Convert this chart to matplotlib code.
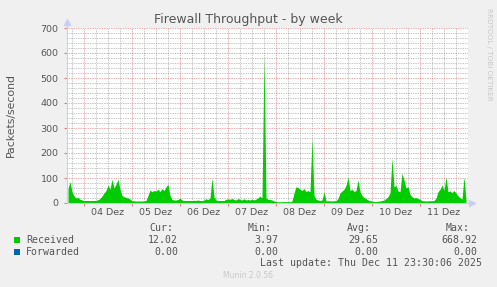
import matplotlib.pyplot as plt
import numpy as np

W, H = 497, 287

# hourly packets/second, hour 0 = 04 Dez 00:00
dec03 = [58, 85, 45, 28, 20, 22, 15, 12]  # 16:00 .. 23:00
dec04 = [10, 10, 10, 10, 10, 10, 11, 13, 18, 28, 40, 50,
         72, 55, 95, 60, 75, 95, 55, 30, 25, 22, 20, 16]
dec05 = [9, 9, 8, 8, 8, 8, 9, 10, 30, 52, 45, 50,
         48, 55, 45, 58, 50, 65, 75, 30, 14, 12, 12, 14]
dec06 = [20, 12, 10, 10, 10, 10, 10, 11, 10, 12, 10, 10,
         12, 17, 14, 20, 100, 25, 12, 10, 10, 10, 10, 15]
dec07 = [16, 15, 18, 14, 12, 18, 14, 12, 17, 12, 14, 12,
         15, 12, 16, 20, 28, 20, 590, 20, 15, 14, 12, 8]
dec08 = [6, 5, 5, 5, 6, 5, 6, 5, 8, 40, 65, 62,
         55, 50, 58, 45, 50, 45, 260, 30, 15, 12, 10, 12]
dec09 = [45, 8, 9, 9, 8, 9, 10, 18, 40, 48, 55, 70,
         104, 50, 55, 45, 50, 92, 45, 30, 22, 18, 12, 9]
dec10 = [8, 6, 6, 7, 8, 10, 12, 18, 25, 40, 180, 65,
         70, 48, 45, 120, 92, 60, 65, 35, 25, 20, 22, 18]
dec11 = [15, 9, 9, 8, 9, 9, 9, 10, 20, 45, 55, 72,
         50, 104, 45, 48, 42, 50, 40, 28, 22, 15, 105, 12]

received = np.array(dec03 + dec04 + dec05 + dec06 + dec07 + dec08 + dec09 + dec10 + dec11, float)
hours = np.arange(-8, -8 + len(received))
forwarded = np.zeros(len(received))

day_labels = ["04 Dez", "05 Dez", "06 Dez", "07 Dez", "08 Dez", "09 Dez", "10 Dez", "11 Dez"]

stat_heads = ["Cur:", "Min:", "Avg:", "Max:"]
received_stats = ["12.02", "3.97", "29.65", "668.92"]
forwarded_stats = ["0.00", "0.00", "0.00", "0.00"]

GREEN = "#00CC00"
BLUE = "#0066B3"
TXT = "#555555"
AXIS = "#C8CFF5"


def px(x, y):
    return x / W, 1 - y / H


fig = plt.figure(figsize=(W / 100, H / 100), dpi=100, facecolor="#F0F0F0")
ax = fig.add_axes([67 / W, 1 - 203 / H, (468 - 67) / W, 175 / H])
ax.set_facecolor("white")

ax.fill_between(hours, 0, received, color=GREEN, lw=0, zorder=3)
ax.fill_between(hours, received, received + forwarded, color=BLUE, lw=0, zorder=3)

ax.set_xlim(-8.5, 192)
ax.set_ylim(0, 700)

for s in ax.spines.values():
    s.set_visible(False)

midnights = np.arange(0, 192, 24)
ax.set_xticks(midnights)
ax.set_xticks(np.arange(-6, 192, 6), minor=True)
ax.set_yticks(np.arange(0, 701, 100))
ax.set_yticks(np.arange(0, 701, 20), minor=True)
ax.set_xticklabels([])
ax.tick_params(axis="y", which="major", labelsize=6.8, labelcolor=TXT, length=2,
               color="#E08080", pad=4)
ax.tick_params(axis="x", which="major", length=2, color="#E08080")
ax.tick_params(which="minor", length=1, color=AXIS)

ax.grid(which="major", color=(0.85, 0.35, 0.35, 0.45), lw=0.5, ls=(0, (1, 1.5)), zorder=1)
ax.grid(which="minor", color=(0.55, 0.55, 0.55, 0.32), lw=0.5, ls=(0, (1, 1.5)), zorder=1)
ax.set_axisbelow(True)

for i, lab in enumerate(day_labels):
    ax.text(12 + 24 * i, -38, lab, ha="center", va="center", fontsize=6.8, color=TXT)

# axis lines with arrows
ax.plot([0, 0], [0, 1.02], transform=ax.transAxes, color=AXIS, lw=0.8, clip_on=False, zorder=4)
ax.plot([0, 1.005], [0, 0], transform=ax.transAxes, color=AXIS, lw=0.8, clip_on=False, zorder=4)
ax.plot([0], [1.035], transform=ax.transAxes, marker="^", ms=4.5, color=AXIS, clip_on=False)
ax.plot([1.01], [0], transform=ax.transAxes, marker=">", ms=4.5, color=AXIS, clip_on=False)

fig.text(*px(248.5, 19), "Firewall Throughput - by week", ha="center", va="center",
         fontsize=9, color=TXT)
fig.text(*px(11, 115), "Packets/second", ha="center", va="center", rotation=90,
         fontsize=7.8, color=TXT)
fig.text(*px(489, 54), "RRDTOOL / TOBI OETIKER", ha="center", va="center", rotation=270,
         fontsize=5.2, color="#C8C8C8")

mono = "DejaVu Sans Mono"
ms = 7.1
head_x = [173, 272, 371, 470]
val_x = [178, 278, 378, 477]
for hx, h in zip(head_x, stat_heads):
    fig.text(*px(hx, 228), h, ha="right", va="center", family=mono, fontsize=ms, color=TXT)

rows = [("Received", GREEN, received_stats, 240), ("Forwarded", BLUE, forwarded_stats, 252)]
for name, col, stats, y in rows:
    fig.patches.append(plt.Rectangle(px(14, y + 3), 6 / W, 6 / H, transform=fig.transFigure,
                                     color=col, lw=0))
    fig.text(*px(26, y), name, ha="left", va="center", family=mono, fontsize=ms, color=TXT)
    for vx, v in zip(val_x, stats):
        fig.text(*px(vx, y), v, ha="right", va="center", family=mono, fontsize=ms, color=TXT)

fig.text(*px(482, 263), "Last update: Thu Dec 11 23:30:06 2025", ha="right", va="center",
         family=mono, fontsize=ms, color=TXT)
fig.text(*px(248, 276), "Munin 2.0.56", ha="center", va="center", fontsize=5.5, color="#C8C8C8")

fig.savefig("out.png", dpi=100, facecolor=fig.get_facecolor())
